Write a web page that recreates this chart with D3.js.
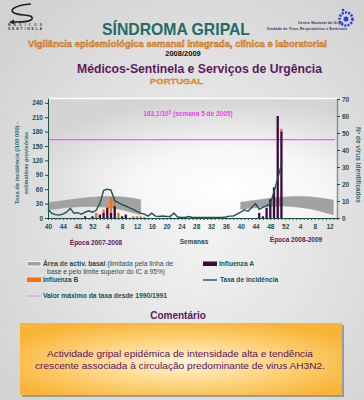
<!DOCTYPE html>
<html>
<head>
<meta charset="utf-8">
<script src="https://cdn.jsdelivr.net/npm/d3@7"></script>
<style>
  html, body { margin: 0; padding: 0; background: #dcdcdc; }
  svg { display: block; font-family: "Liberation Sans", Arial, sans-serif; }
</style>
</head>
<body>
<svg id="chart" width="364" height="400"></svg>
<script>
// week index 0 = week 40 of 2007
const tickLabels = ["40","44","48","52","4","8","12","16","20","24","28","32","36","40","44","48","52","4","8","12"];
const tickIdx = [0,4,8,12,16,20,24,28,32,36,40,44,48,52,56,60,64,68,72,76];

// incidence rate per 100 000, weeks 0..63
const incidence = [18,10,7,6,8,12,20,10,11,8,12,15,12,16,30,57,60,58,36,32,28,25,21,18,14,10,8,4,10,4,
  3,4,3,4,10,2,1,1,3,1,1,1,1,1,1,1,1,1,2,4,4,8,12,17,14,22,30,18,22,26,30,55,82,112];

// basal activity band (lower / upper), 2007-2008 season weeks 0..25
const band1Start = 0;
const band1Low  = [17,18,19,20,21,22,22,23,23,24,24,24,24,24,23,23,22,21,20,19,17,15,13,11,9,7];
const band1High = [32,33,34,35,36,37,38,39,40,41,42,43,43,44,44,45,45,45,45,44,44,43,42,41,40,38];
// 2008-2009 season weeks 52..77
const band2Start = 52;
const band2Low  = [18,19,20,21,21,22,23,23,24,24,24,25,25,24,24,23,22,21,20,19,17,15,13,11,9,7];
const band2High = [33,34,35,36,37,38,39,40,41,42,43,43,44,44,45,45,45,45,44,44,43,42,41,40,39,37];

// identified viruses: [week index, count]
const fluA = [[10,1],[12,1],[14,2],[15,3],[16,6],[17,3],[18,7],[20,1],[21,2],
  [57,3],[58,1],[59,6],[60,11],[61,18],[62,60],[63,51]];
const fluB = [[13,3],[15,2],[16,1],[17,9],[18,5],[19,3],[23,1],[24,1],[25,1],[26,0.6],[33,1],[63,1.5]];

const maxRate = 163.1;

const svg = d3.select("#chart");
const defs = svg.append("defs");

const pageGrad = defs.append("radialGradient").attr("id", "pageBg").attr("cx", "55%").attr("cy", "55%").attr("r", "70%");
pageGrad.append("stop").attr("offset", "0%").attr("stop-color", "#f4f4f4");
pageGrad.append("stop").attr("offset", "100%").attr("stop-color", "#d2d2d2");

const plotGrad = defs.append("radialGradient").attr("id", "plotBg").attr("cx", "62%").attr("cy", "75%").attr("r", "75%");
plotGrad.append("stop").attr("offset", "0%").attr("stop-color", "#ffffff");
plotGrad.append("stop").attr("offset", "45%").attr("stop-color", "#f6f6f6");
plotGrad.append("stop").attr("offset", "100%").attr("stop-color", "#d4d4d4");

const boxGrad = defs.append("radialGradient").attr("id", "boxBg").attr("cx", "50%").attr("cy", "55%").attr("r", "60%");
boxGrad.append("stop").attr("offset", "0%").attr("stop-color", "#fff6d6");
boxGrad.append("stop").attr("offset", "55%").attr("stop-color", "#fdd27a");
boxGrad.append("stop").attr("offset", "100%").attr("stop-color", "#f8b436");

svg.append("rect").attr("width", 364).attr("height", 400).attr("fill", "url(#pageBg)");

// ---------- header ----------
// left logo
svg.append("path")
  .attr("d", "M31,4 C16,5 8,10 14,13 C20,16 34,14 32,19 C30,22 22,22 14,22")
  .attr("fill", "none").attr("stroke", "#222").attr("stroke-width", 1.6);
svg.append("path").attr("d", "M14,19.5 L9,22 L14,24.5 Z").attr("fill", "#222");
svg.append("text").attr("x", 8).attr("y", 26).attr("font-size", 3.2).attr("font-weight", "bold")
  .attr("fill", "#333").attr("textLength", 34).text("M É D I C O S");
svg.append("text").attr("x", 8).attr("y", 30).attr("font-size", 3.4).attr("font-weight", "bold")
  .attr("fill", "#333").attr("textLength", 34).text("SENTINELA");

// right logo
svg.append("circle").attr("cx", 346).attr("cy", 19).attr("r", 6.5)
  .attr("fill", "none").attr("stroke", "#2a3fd8").attr("stroke-width", 2.6).attr("stroke-dasharray", "2 1.2");
svg.append("circle").attr("cx", 346).attr("cy", 19).attr("r", 2.5).attr("fill", "#2a3fd8");
svg.append("circle").attr("cx", 343).attr("cy", 10).attr("r", 1.3).attr("fill", "#2a3fd8");
svg.append("text").attr("x", 343).attr("y", 23.5).attr("text-anchor", "end").attr("font-size", 3.3)
  .attr("font-weight", "bold").attr("fill", "#1d1d5a").attr("textLength", 45).text("Centro Nacional da Gripe");
svg.append("text").attr("x", 347).attr("y", 30).attr("text-anchor", "end").attr("font-size", 3.3)
  .attr("font-weight", "bold").attr("fill", "#1d1d5a").attr("textLength", 80).text("Unidade de Vírus Respiratórios e Entéricos");

svg.append("text").attr("x", 102).attr("y", 35).attr("font-size", 16.5).attr("font-weight", "bold")
  .attr("fill", "#236b66").attr("textLength", 148).attr("lengthAdjust", "spacingAndGlyphs").text("SÍNDROMA GRIPAL");
svg.append("text").attr("x", 28).attr("y", 46.5).attr("font-size", 8.6).attr("font-weight", "bold")
  .attr("fill", "#f7a330").attr("stroke", "#b4601a").attr("stroke-width", 0.35)
  .attr("textLength", 299).attr("lengthAdjust", "spacingAndGlyphs")
  .text("Vigilância epidemiológica semanal integrada, clínica e laboratorial");
svg.append("text").attr("x", 183).attr("y", 55.5).attr("text-anchor", "middle").attr("font-size", 7.5)
  .attr("font-weight", "bold").attr("fill", "#111").text("2008/2009");
svg.append("text").attr("x", 77).attr("y", 72.5).attr("font-size", 12).attr("font-weight", "bold")
  .attr("fill", "#5c1a5c").attr("textLength", 245).attr("lengthAdjust", "spacingAndGlyphs")
  .text("Médicos-Sentinela e Serviços de Urgência");
svg.append("text").attr("x", 150).attr("y", 84).attr("font-size", 8).attr("font-weight", "bold")
  .attr("fill", "#f7a330").attr("stroke", "#c87020").attr("stroke-width", 0.3)
  .attr("textLength", 53).attr("lengthAdjust", "spacingAndGlyphs").text("PORTUGAL");

// ---------- chart ----------
const x = d3.scaleLinear().domain([0, 78]).range([48, 337]);
const yL = d3.scaleLinear().domain([0, 250]).range([218, 98]);
const yR = d3.scaleLinear().domain([0, 70]).range([218, 99]);

svg.append("rect").attr("x", 48).attr("y", 98).attr("width", 289).attr("height", 120).attr("fill", "url(#plotBg)");
svg.append("line").attr("x1", 48).attr("x2", 337).attr("y1", 98.5).attr("y2", 98.5)
  .attr("stroke", "#fff").attr("stroke-width", 1.5);

// basal band
function drawBand(start, low, high) {
  const pts = low.map((v, i) => ({ i: start + i, lo: v, hi: high[i] }));
  svg.append("path").datum(pts)
    .attr("d", d3.area().x(d => x(d.i)).y0(d => yL(d.lo)).y1(d => yL(d.hi)).curve(d3.curveBasis))
    .attr("fill", "#a2a2a2").attr("stroke", "#8e8e8e").attr("stroke-width", 0.4);
}
drawBand(band1Start, band1Low, band1High);
drawBand(band2Start, band2Low, band2High);

// historical max line
svg.append("line").attr("x1", x(0)).attr("x2", x(77.5)).attr("y1", yL(maxRate)).attr("y2", yL(maxRate))
  .attr("stroke", "#f53cf0").attr("stroke-width", 1);
svg.append("text").attr("x", 188).attr("y", 116).attr("text-anchor", "middle").attr("font-size", 6.5)
  .attr("font-weight", "bold").attr("fill", "#f53cf0")
  .html("163,1/10<tspan dy='-2.5' font-size='4.5'>5</tspan><tspan dy='2.5'> (semana 5 de 2005)</tspan>");

// stacked virus bars: A at bottom, B on top
const barW = 2.3;
const aMap = new Map(fluA);
svg.append("g").selectAll("rect").data(fluA).join("rect")
  .attr("x", d => x(d[0]) - barW / 2).attr("width", barW)
  .attr("y", d => yR(d[1])).attr("height", d => yR(0) - yR(d[1]))
  .attr("fill", "#3c0a40");
svg.append("g").selectAll("rect").data(fluB).join("rect")
  .attr("x", d => x(d[0]) - barW / 2).attr("width", barW)
  .attr("y", d => yR((aMap.get(d[0]) || 0) + d[1]))
  .attr("height", d => yR(0) - yR(d[1]))
  .attr("fill", "#ff6a12");

// incidence line
svg.append("path").datum(incidence)
  .attr("d", d3.line().x((d, i) => x(i)).y(d => yL(d)))
  .attr("fill", "none").attr("stroke", "#1b5552").attr("stroke-width", 1.4);

// axes
const axisColor = "#1f4f4f";
const gL = svg.append("g").attr("transform", "translate(48,0)")
  .call(d3.axisLeft(yL).tickValues(d3.range(0, 241, 30)).tickSize(3).tickSizeOuter(0).tickPadding(2));
const gR = svg.append("g").attr("transform", "translate(337,0)")
  .call(d3.axisRight(yR).tickValues(d3.range(0, 71, 10)).tickSize(3).tickSizeOuter(0).tickPadding(2));
const gB = svg.append("g").attr("transform", "translate(0,218)")
  .call(d3.axisBottom(x).tickValues(d3.range(0, 79)).tickSize(2).tickSizeOuter(0)
    .tickFormat(d => { const k = tickIdx.indexOf(d); return k >= 0 ? tickLabels[k] : ""; }).tickPadding(4));
[gL, gR, gB].forEach(g => {
  g.select(".domain").attr("stroke", axisColor);
  g.selectAll(".tick line").attr("stroke", axisColor);
  g.selectAll(".tick text").attr("fill", axisColor).attr("font-size", 6.5).attr("font-weight", "bold")
    .attr("font-family", "'Liberation Sans', Arial, sans-serif");
});
gR.select(".domain").attr("stroke", "#7f8f8f").attr("stroke-width", 1.4);

// axis titles
svg.append("text").attr("transform", "translate(19,163) rotate(-90)").attr("text-anchor", "middle")
  .attr("font-size", 6).attr("font-weight", "bold").attr("fill", "#2e6b6b")
  .attr("textLength", 82).attr("lengthAdjust", "spacingAndGlyphs").text("Taxa de incidência (/100 000) -");
svg.append("text").attr("transform", "translate(28,163) rotate(-90)").attr("text-anchor", "middle")
  .attr("font-size", 6).attr("font-weight", "bold").attr("fill", "#2e6b6b")
  .attr("textLength", 62).attr("lengthAdjust", "spacingAndGlyphs").text("estimativas provisórias");
svg.append("text").attr("transform", "translate(356,165) rotate(90)").attr("text-anchor", "middle")
  .attr("font-size", 6.3).attr("font-weight", "bold").attr("fill", "#2e6b6b")
  .attr("textLength", 76).attr("lengthAdjust", "spacingAndGlyphs").text("Nº de vírus identificados");

svg.append("text").attr("x", 96).attr("y", 244.5).attr("text-anchor", "middle").attr("font-size", 6.5)
  .attr("font-weight", "bold").attr("fill", "#5a1a5a").text("Época 2007-2008");
svg.append("text").attr("x", 194).attr("y", 243.5).attr("text-anchor", "middle").attr("font-size", 6.5)
  .attr("font-weight", "bold").attr("fill", "#1f4f4f").text("Semanas");
svg.append("text").attr("x", 296).attr("y", 241.5).attr("text-anchor", "middle").attr("font-size", 6.5)
  .attr("font-weight", "bold").attr("fill", "#5a1a5a").text("Época 2008-2009");

// ---------- legend ----------
const lg = svg.append("g").attr("font-size", 6.6).attr("fill", "#1f4f4f");
lg.append("rect").attr("x", 27).attr("y", 261.5).attr("width", 14).attr("height", 4.5)
  .attr("fill", "#a2a2a2").attr("stroke", "#fff").attr("stroke-width", 0.8);
lg.append("text").attr("x", 43).attr("y", 265.5).attr("textLength", 130).attr("lengthAdjust", "spacingAndGlyphs")
  .html("<tspan font-weight='bold'>Área de activ. basal</tspan> (limitada pela linha de");
lg.append("text").attr("x", 47).attr("y", 273.5).attr("textLength", 118).attr("lengthAdjust", "spacingAndGlyphs")
  .text("base e pelo limite superior do IC a 95%)");
lg.append("rect").attr("x", 203).attr("y", 261.5).attr("width", 14).attr("height", 4.5).attr("fill", "#3c0a40");
lg.append("text").attr("x", 219).attr("y", 265.5).attr("font-weight", "bold").text("Influenza A");
lg.append("rect").attr("x", 27).attr("y", 277.5).attr("width", 14).attr("height", 4.5).attr("fill", "#ff6a12");
lg.append("text").attr("x", 43).attr("y", 282).attr("font-weight", "bold").text("Influenza B");
lg.append("line").attr("x1", 203).attr("x2", 217).attr("y1", 280).attr("y2", 280)
  .attr("stroke", "#1b5552").attr("stroke-width", 1.4);
lg.append("text").attr("x", 220).attr("y", 282).attr("font-weight", "bold").text("Taxa de incidência");
lg.append("line").attr("x1", 27).attr("x2", 41).attr("y1", 296).attr("y2", 296)
  .attr("stroke", "#f07ae8").attr("stroke-width", 0.8);
lg.append("text").attr("x", 43).attr("y", 298.3).attr("font-weight", "bold").attr("textLength", 124)
  .attr("lengthAdjust", "spacingAndGlyphs").text("Valor máximo da taxa desde 1990/1991");

// ---------- comment ----------
svg.append("text").attr("x", 178).attr("y", 318.5).attr("text-anchor", "middle").attr("font-size", 10)
  .attr("font-weight", "bold").attr("fill", "#5a1a5a").text("Comentário");
svg.append("rect").attr("x", 22).attr("y", 325).attr("width", 322).attr("height", 72).attr("fill", "#9a9a9a");
svg.append("rect").attr("x", 20).attr("y", 323).attr("width", 322).attr("height", 72).attr("fill", "url(#boxBg)");
svg.append("text").attr("x", 180).attr("y", 357).attr("text-anchor", "middle").attr("font-size", 8.6)
  .attr("fill", "#5a1060").attr("textLength", 266).attr("lengthAdjust", "spacingAndGlyphs")
  .text("Actividade gripal epidémica de intensidade alta e tendência");
svg.append("text").attr("x", 180).attr("y", 369).attr("text-anchor", "middle").attr("font-size", 8.6)
  .attr("fill", "#5a1060").attr("textLength", 290).attr("lengthAdjust", "spacingAndGlyphs")
  .text("crescente associada à circulação predominante de virus AH3N2.");
</script>
</body>
</html>
